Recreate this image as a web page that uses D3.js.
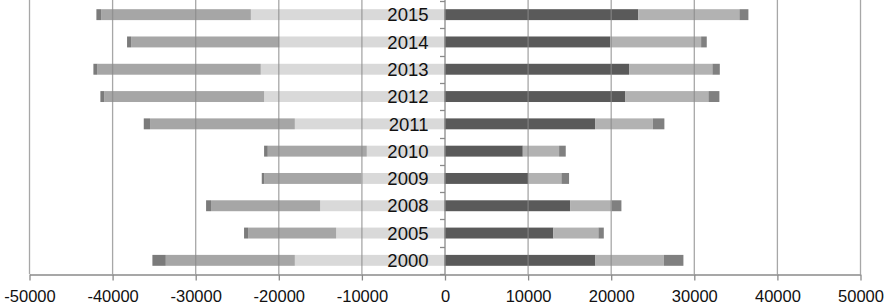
<!DOCTYPE html>
<html>
<head>
<meta charset="utf-8">
<script src="https://cdn.jsdelivr.net/npm/d3@7"></script>
<style>
  body { margin: 0; background: #fff; }
  svg { display: block; font-family: "Liberation Sans", Arial, sans-serif; }
</style>
</head>
<body>
<div id="chart"></div>
<script>
// categories, top to bottom
const years = ["2015", "2014", "2013", "2012", "2011", "2010", "2009", "2008", "2005", "2000"];

// left side (drawn as negative), from the centre outwards
const leftInner  = [23300, 19870, 22110, 21710, 18010, 9350, 10040, 14970, 13040, 18010];
const leftMiddle = [18020, 17840, 19660, 19220, 17420, 11920, 11630, 13120, 10590, 15530];
const leftOuter  = [570, 490, 480, 480, 760, 440, 320, 600, 490, 1610];

// right side, from the centre outwards
const rightInner  = [23330, 19930, 22210, 21770, 18120, 9420, 10060, 15110, 13100, 18160];
const rightMiddle = [12160, 10950, 10030, 9990, 6950, 4370, 4010, 5020, 5420, 8230];
const rightOuter  = [1080, 680, 890, 1320, 1390, 800, 920, 1160, 650, 2360];

const xTicks = [-50000, -40000, -30000, -20000, -10000, 0, 10000, 20000, 30000, 40000, 50000];

const width = 886, height = 303;

const svg = d3.select('#chart').append('svg')
    .attr('width', width)
    .attr('height', height);

const x = d3.scaleLinear()
    .domain([-50000, 50000])
    .range([29, 860]);

const y = d3.scaleBand()
    .domain(years)
    .range([1, 274])
    .paddingInner(0.6)
    .paddingOuter(0.3);

const gridColor = '#8a8a8a';

// series stacked outward from zero
const left = [
  {vals: leftInner, color: '#d9d9d9'},
  {vals: leftMiddle, color: '#a6a6a6'},
  {vals: leftOuter, color: '#7b7b7b'}
];
const right = [
  {vals: rightInner, color: '#5a5a5a'},
  {vals: rightMiddle, color: '#b2b2b2'},
  {vals: rightOuter, color: '#808080'}
];

function stackSide(series, sign) {
  const segs = [];
  years.forEach((yr, i) => {
    let acc = 0;
    series.forEach(s => {
      const v0 = acc, v1 = acc + s.vals[i];
      acc = v1;
      segs.push({year: yr, a: sign * v0, b: sign * v1, color: s.color});
    });
  });
  return segs;
}

const segs = stackSide(left, -1).concat(stackSide(right, 1));

svg.append('g')
  .selectAll('rect')
  .data(segs)
  .join('rect')
    .attr('x', d => x(Math.min(d.a, d.b)))
    .attr('y', d => y(d.year))
    .attr('width', d => Math.abs(x(d.b) - x(d.a)))
    .attr('height', y.bandwidth())
    .attr('fill', d => d.color);

// vertical gridlines (visible through the bars)
svg.append('g')
  .selectAll('line')
  .data(xTicks.filter(t => t !== 0))
  .join('line')
    .attr('x1', d => x(d) + 0.5)
    .attr('x2', d => x(d) + 0.5)
    .attr('y1', 0)
    .attr('y2', 274)
    .attr('stroke', gridColor)
    .attr('stroke-opacity', 0.75)
    .attr('stroke-width', 1.3);

// bottom axis
const xAxis = svg.append('g')
    .attr('transform', 'translate(0.5,274.5)')
    .call(d3.axisBottom(x).tickValues(xTicks).tickFormat(d3.format('d'))
      .tickSize(6).tickPadding(10).tickSizeOuter(0));
xAxis.select('.domain').attr('stroke', gridColor).attr('stroke-width', 1.3);
xAxis.selectAll('.tick line').attr('stroke', gridColor).attr('stroke-width', 1.3);
xAxis.selectAll('.tick text')
    .attr('fill', '#111')
    .style('font-size', '16.5px')
    .style('font-family', '"Liberation Sans", Arial, sans-serif')
    .text(d => d < 0 ? '-' + Math.abs(d) : d);

// category axis at zero
const yAxis = svg.append('g')
    .attr('transform', `translate(${x(0) + 0.5},0)`);
yAxis.append('line')
    .attr('y1', 0).attr('y2', 274)
    .attr('stroke', gridColor).attr('stroke-width', 1.3);
const bounds = years.map(yr => y(yr) - y.step() * 0.3);
bounds.push(274);
yAxis.selectAll('.yt')
  .data(bounds)
  .join('line')
    .attr('class', 'yt')
    .attr('x1', -5).attr('x2', 0)
    .attr('y1', d => Math.round(d) + 0.5)
    .attr('y2', d => Math.round(d) + 0.5)
    .attr('stroke', gridColor).attr('stroke-width', 1.3);

// year labels
svg.append('g')
  .selectAll('text')
  .data(years)
  .join('text')
    .attr('x', x(0) - 16)
    .attr('y', d => y(d) + y.bandwidth() / 2)
    .attr('dy', '0.36em')
    .attr('text-anchor', 'end')
    .attr('fill', '#111')
    .style('font-size', '18.5px')
    .text(d => d);
</script>
</body>
</html>
